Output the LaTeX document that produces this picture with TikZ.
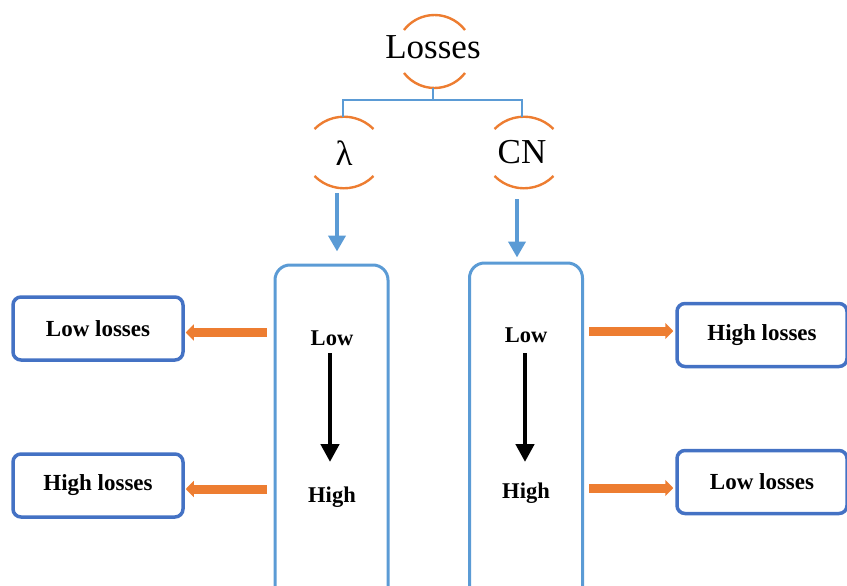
\documentclass[tikz,border=0pt]{standalone}
\usepackage{fontspec}
\setmainfont{Liberation Serif}
\usetikzlibrary{arrows.meta}
\definecolor{orng}{HTML}{ED7D31}
\definecolor{lblue}{HTML}{5B9BD5}
\definecolor{dblue}{HTML}{4472C4}
\begin{document}
\begin{tikzpicture}[x=1pt,y=1pt,
  ring/.style={inner sep=0pt,font=\fontsize{35}{38}\selectfont},
  arcline/.style={draw=orng,line width=2.4pt},
  tree/.style={draw=lblue,line width=2.8pt},
  bigbox/.style={draw=lblue,line width=3pt,rounded corners=15pt,minimum width=113pt,minimum height=340pt,inner sep=0pt},
  smallbox/.style={draw=dblue,line width=3.5pt,rounded corners=8pt,minimum width=170pt,minimum height=63pt,inner sep=0pt,font=\fontsize{23}{26}\selectfont\bfseries},
  lvl/.style={font=\fontsize{22.5}{25}\selectfont\bfseries,inner sep=0pt},
  barrow/.style={draw=lblue,line width=4.5pt,-{Triangle[length=16pt,width=17pt]}},
  karrow/.style={draw=black,line width=4.5pt,-{Triangle[length=18pt,width=18pt]}},
  oarrow/.style={draw=orng,line width=9pt,-{Triangle[length=8pt,width=16pt]}}]
\useasboundingbox (0,0) rectangle (847,-586);
% ring nodes
\node[ring] (L) at (433,-47) {Losses};
\node[ring] (lam) at (344,-153) {λ};
\node[ring] (cn) at (522,-152) {CN};
% arcs: centre x / top peak y / bottom low y / radius / half angle
\foreach \cx/\ty/\by/\r/\a in {434.5/15/88/38.5/52.4, 344/116.7/188.3/41.5/45.3, 524/116.7/188.3/41.5/45.3}{
  \draw[arcline] ([shift={(90-\a:\r)}]\cx,-\ty-\r) arc[start angle=90-\a,end angle=90+\a,radius=\r];
  \draw[arcline] ([shift={(270-\a:\r)}]\cx,-\by+\r) arc[start angle=270-\a,end angle=270+\a,radius=\r];
}
% tree
\coordinate (Lb) at (433,-88);
\coordinate (lamt) at (343,-116.7);
\coordinate (cnt) at (522,-116.7);
\draw[tree] (Lb) -- ++(0,-12) -| (lamt);
\draw[tree] (Lb) -- ++(0,-12) -| (cnt);
% big boxes
\node[bigbox] (b1) at (331.5,-435) {};
\node[bigbox] (b2) at (526,-433) {};
% blue arrows
\coordinate (a1) at (337,-193);
\coordinate (a2) at (517,-199);
\draw[barrow,shorten >=12pt] (a1) -- (a1 |- b1.north);
\draw[barrow,shorten >=4pt] (a2) -- (a2 |- b2.north);
% low/high labels
\node[lvl] (low1) at (332,-338) {Low};
\node[lvl] (high1) at (332,-497) {High};
\node[lvl] (low2) at (526,-335) {Low};
\node[lvl] (high2) at (526,-493) {High};
\coordinate (k1s) at (330,-353);
\coordinate (k1e) at (330,-462);
\coordinate (k2s) at (525,-353);
\coordinate (k2e) at (525,-462);
\draw[karrow] (k1s) -- (k1e);
\draw[karrow] (k2s) -- (k2e);
% small boxes
\node[smallbox] (s1) at (98,-328.5) {Low losses};
\node[smallbox] (s2) at (98,-485.5) {High losses};
\node[smallbox] (s3) at (762,-335) {High losses};
\node[smallbox] (s4) at (762,-482) {Low losses};
% orange arrows
\coordinate (y1) at (0,-332.5);
\coordinate (y2) at (0,-489);
\coordinate (y3) at (0,-331);
\coordinate (y4) at (0,-488);
\draw[oarrow] ([xshift=-7pt]b1.west |- y1) -- ([xshift=1pt]s1.east |- y1);
\draw[oarrow] ([xshift=-7pt]b1.west |- y2) -- ([xshift=1pt]s2.east |- y2);
\draw[oarrow] ([xshift=5pt]b2.east |- y3) -- ([xshift=-2pt]s3.west |- y3);
\draw[oarrow] ([xshift=5pt]b2.east |- y4) -- ([xshift=-2pt]s4.west |- y4);
\end{tikzpicture}
\end{document}
